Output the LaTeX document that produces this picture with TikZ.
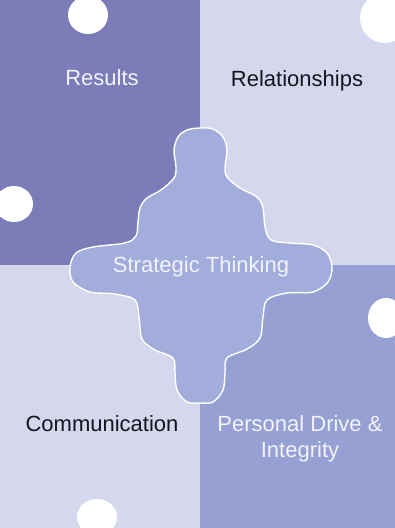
\documentclass[tikz,border=0pt]{standalone}
\usepackage{fontspec}
\setmainfont{Liberation Sans}
\usepackage{xcolor}
\definecolor{darkq}{HTML}{7C7DB8}
\definecolor{lightq}{HTML}{D5D8EC}
\definecolor{midq}{HTML}{96A0D2}
\definecolor{hubblue}{HTML}{A2ADDC}
\definecolor{paletext}{HTML}{F2F3FA}
\definecolor{darktext}{HTML}{15151F}

\begin{document}
\begin{tikzpicture}[
    x=1pt, y=-1pt,
    quad/.style={rectangle, inner sep=0pt, outer sep=0pt, anchor=north west, minimum width=200pt, minimum height=265pt},
    qtext/.style={font=\fontsize{22}{26}\selectfont, anchor=base, inner sep=0pt},
    knob/.style={fill=white},
    hub/.style={fill=hubblue, draw=white, line width=1.4pt}
]
\useasboundingbox (0,0) rectangle (395,528);
\clip (0,0) rectangle (395,528);

% Quadrants
\node[quad, fill=darkq] (resq) at (0,0) {};
\node[quad, fill=lightq] (relq) at (200,0) {};
\node[quad, fill=lightq] (comq) at (0,265) {};
\node[quad, fill=midq] (drvq) at (200,265) {};

% Puzzle knobs
\fill[knob] (88,15) ellipse (20 and 19);
\fill[knob] (75,0) rectangle (101,15);
\fill[knob] (14,204) ellipse (19 and 18);
\fill[knob] (0,191) rectangle (14,217);
\fill[knob] (385,18) circle (25);
\fill[knob] (386,318) ellipse (18 and 20);
\fill[knob] (97,517) ellipse (20 and 18);
\fill[knob] (85,517) rectangle (109,528);

% Centre piece
\draw[hub] plot[smooth cycle, tension=0.55] coordinates {
    (200,128) (213,129) (223,137) (227,150) (225,167) (227,177)
    (240,188) (257,197) (263,208) (265,227) (271,240) (290,243)
    (313,245) (327,253) (332,267) (328,282) (313,292) (287,293)
    (267,300) (263,317) (260,338) (247,349) (227,358) (225,373)
    (223,390) (213,402) (200,403) (187,402) (177,390) (175,373)
    (173,358) (155,350) (142,339) (139,317) (135,300) (115,294)
    (90,292) (73,282) (70,267) (76,253) (93,247) (125,243)
    (136,236) (138,222) (140,208) (147,198) (161,190) (174,178)
    (176,167) (174,150) (178,137) (187,130)
};

% Labels
\node[qtext, text=paletext] (results) at (102,85) {Results};
\node[qtext, text=darktext] (relationships) at (297,86) {Relationships};
\node[qtext, text=paletext] (strategic) at (201,272) {Strategic Thinking};
\node[qtext, text=darktext] (communication) at (102,431) {Communication};
\node[qtext, text=paletext] (drive) at (300,431) {Personal Drive \&};
\node[qtext, text=paletext] (integrity) at (300,457) {Integrity};

\end{tikzpicture}
\end{document}
